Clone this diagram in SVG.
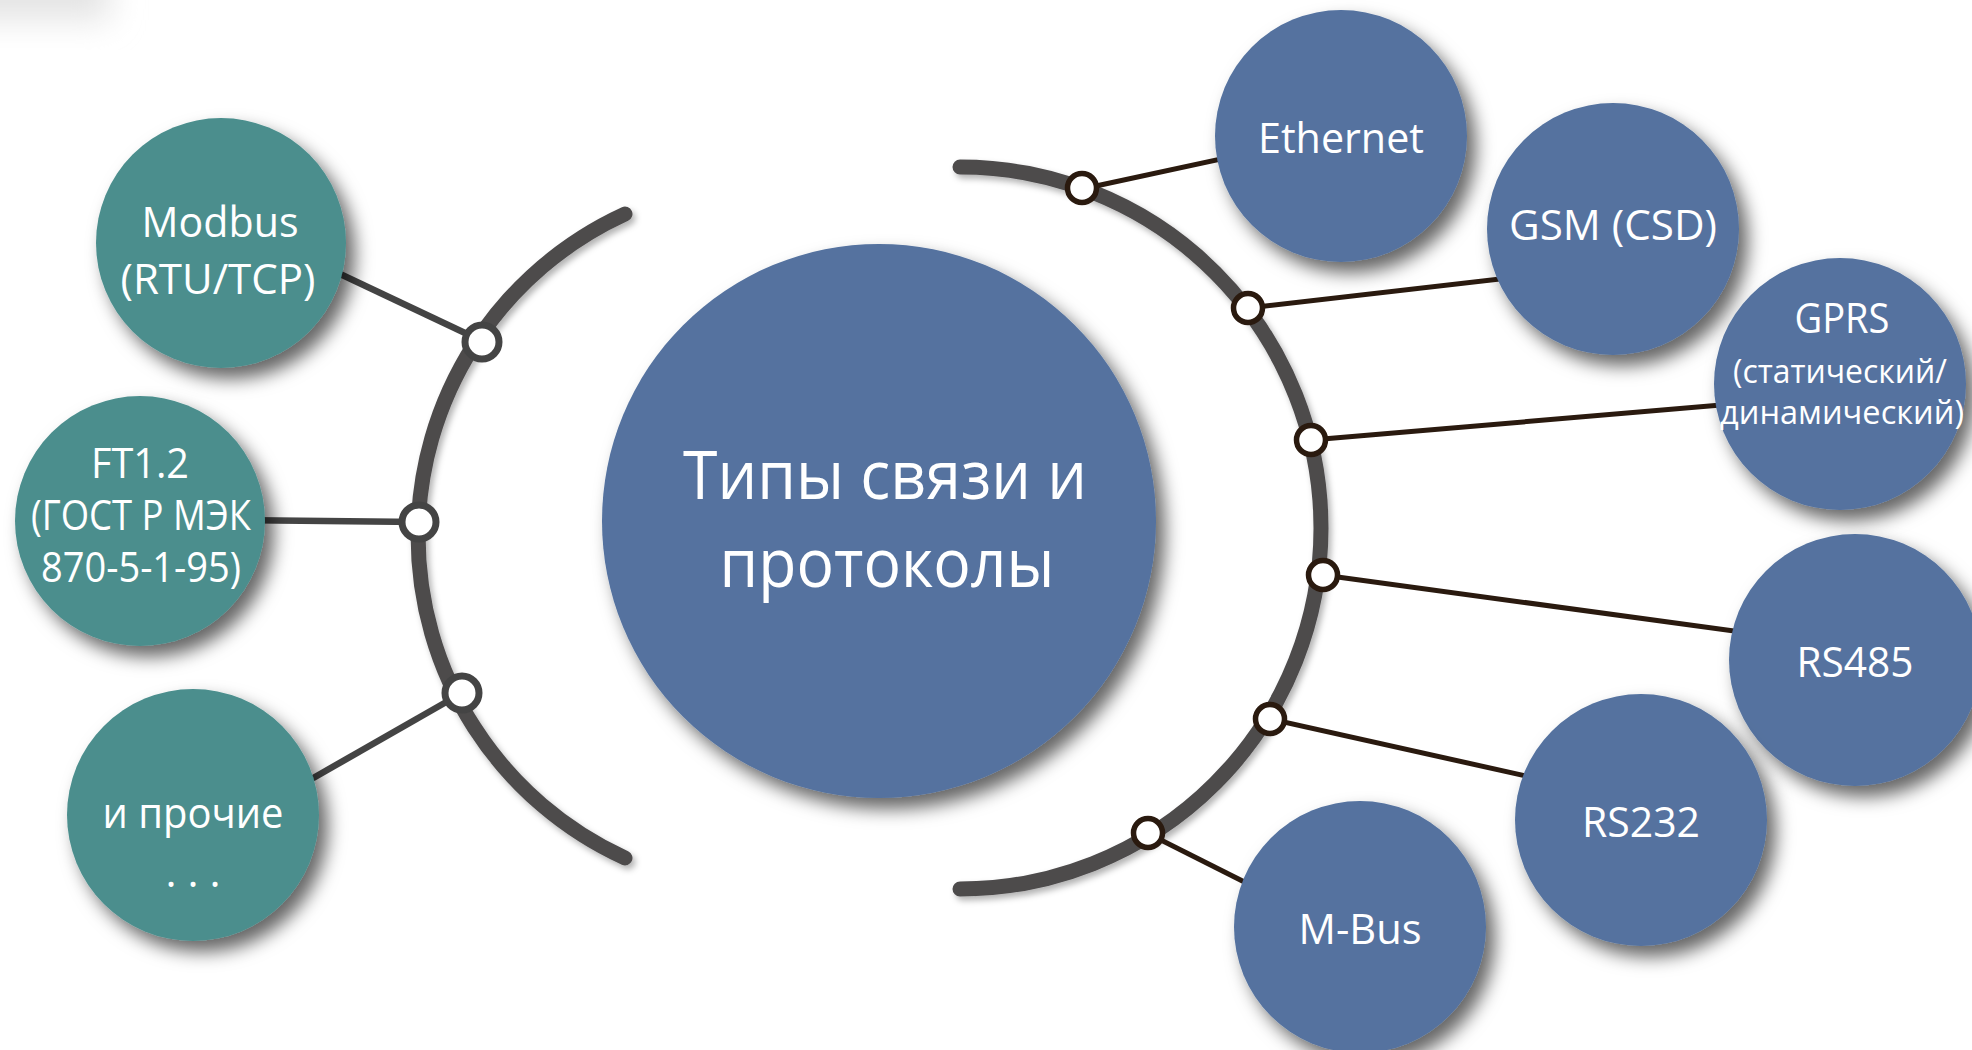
<svg xmlns="http://www.w3.org/2000/svg" width="1972" height="1050" viewBox="0 0 1972 1050">
<defs>
<filter id="sh" x="-30%" y="-30%" width="170%" height="170%">
<feDropShadow dx="9" dy="11" stdDeviation="9" flood-color="#000" flood-opacity="0.6"/>
</filter>
<filter id="shl" x="-30%" y="-30%" width="170%" height="170%">
<feDropShadow dx="3" dy="4" stdDeviation="3" flood-color="#000" flood-opacity="0.3"/>
</filter>
<filter id="blur" x="-50%" y="-50%" width="200%" height="200%">
<feGaussianBlur stdDeviation="16"/>
</filter>
<style>
.teal{fill:#4b8e8d;filter:url(#sh)}
.blue{fill:#54729f;filter:url(#sh)}
.arc{fill:none;stroke:#4d4b4c;stroke-width:15;stroke-linecap:round;filter:url(#shl)}
.cl{stroke:#444;stroke-width:6.5;fill:none}
.cr{stroke:#2a1a0f;stroke-width:5;fill:none}
.dl{fill:#fff;stroke:#444;stroke-width:7}
.dr{fill:#fff;stroke:#2a1a0f;stroke-width:5.5}
text{font-family:"Open Sans","Noto Sans","Liberation Sans",sans-serif;fill:#fff;text-anchor:middle}
.t{font-size:42px}
.s{font-size:32px}
.c{font-size:68px}
</style>
</defs>
<rect width="1972" height="1050" fill="#fff"/>
<rect x="-60" y="-40" width="170" height="60" fill="#e4e4e4" filter="url(#blur)"/>
<g id="arcs">
<path class="arc" d="M625,214 A354,354 0 0 0 625,858"/>
<path class="arc" d="M960,167 A361,361 0 1 1 960,889"/>
</g>
<g id="connectors">
<line class="cl" x1="482" y1="341" x2="300" y2="255"/>
<line class="cl" x1="419" y1="522" x2="230" y2="520"/>
<line class="cl" x1="462" y1="693" x2="280" y2="797"/>
<line class="cr" x1="1082" y1="189" x2="1300" y2="142"/>
<line class="cr" x1="1248" y1="308" x2="1560" y2="272"/>
<line class="cr" x1="1311" y1="440" x2="1780" y2="400"/>
<line class="cr" x1="1323" y1="575" x2="1800" y2="640"/>
<line class="cr" x1="1270" y1="719" x2="1580" y2="788"/>
<line class="cr" x1="1147" y1="833" x2="1300" y2="910"/>
<circle class="dl" cx="482" cy="342" r="17"/>
<circle class="dl" cx="419" cy="522" r="17"/>
<circle class="dl" cx="462" cy="693" r="17"/>
<circle class="dr" cx="1082" cy="188" r="14.5"/>
<circle class="dr" cx="1248" cy="308" r="14.5"/>
<circle class="dr" cx="1311" cy="440" r="14.5"/>
<circle class="dr" cx="1323" cy="575" r="14.5"/>
<circle class="dr" cx="1270" cy="719" r="14.5"/>
<circle class="dr" cx="1148" cy="833" r="14.5"/>
</g>
<g id="center">
<circle class="blue" cx="879" cy="521" r="277"/>
<text class="c" x="885" y="499" textLength="404" lengthAdjust="spacingAndGlyphs">Типы связи и</text>
<text class="c" x="887" y="587" textLength="335" lengthAdjust="spacingAndGlyphs">протоколы</text>
</g>
<g id="modbus">
<circle class="teal" cx="221" cy="243" r="125"/>
<text class="t" x="220" y="237" textLength="157" lengthAdjust="spacingAndGlyphs">Modbus</text>
<text class="t" x="218" y="294" textLength="195" lengthAdjust="spacingAndGlyphs">(RTU/TCP)</text>
</g>
<g id="ft12">
<circle class="teal" cx="140" cy="521" r="125"/>
<text class="t" x="140" y="478" textLength="98" lengthAdjust="spacingAndGlyphs">FT1.2</text>
<text class="t" x="141" y="530" textLength="220" lengthAdjust="spacingAndGlyphs">(ГОСТ Р МЭК</text>
<text class="t" x="141" y="582" textLength="200" lengthAdjust="spacingAndGlyphs">870-5-1-95)</text>
</g>
<g id="other">
<circle class="teal" cx="193" cy="815" r="126"/>
<text class="t" x="193" y="828" textLength="181" lengthAdjust="spacingAndGlyphs">и прочие</text>
<text class="t" x="193" y="887">. . .</text>
</g>
<g id="ethernet">
<circle class="blue" cx="1341" cy="136" r="126"/>
<text class="t" x="1341" y="153" textLength="166" lengthAdjust="spacingAndGlyphs">Ethernet</text>
</g>
<g id="gsm">
<circle class="blue" cx="1613" cy="229" r="126"/>
<text class="t" x="1613" y="240" textLength="208" lengthAdjust="spacingAndGlyphs">GSM (CSD)</text>
</g>
<g id="gprs">
<circle class="blue" cx="1840" cy="384" r="126"/>
<text class="t" x="1842" y="333" textLength="95" lengthAdjust="spacingAndGlyphs">GPRS</text>
<text class="s" x="1840" y="383" textLength="214" lengthAdjust="spacingAndGlyphs">(статический/</text>
<text class="s" x="1842" y="424" textLength="244" lengthAdjust="spacingAndGlyphs">динамический)</text>
</g>
<g id="rs485">
<circle class="blue" cx="1855" cy="660" r="126"/>
<text class="t" x="1855" y="677" textLength="117" lengthAdjust="spacingAndGlyphs">RS485</text>
</g>
<g id="rs232">
<circle class="blue" cx="1641" cy="820" r="126"/>
<text class="t" x="1641" y="837" textLength="118" lengthAdjust="spacingAndGlyphs">RS232</text>
</g>
<g id="mbus">
<circle class="blue" cx="1360" cy="927" r="126"/>
<text class="t" x="1360" y="944" textLength="123" lengthAdjust="spacingAndGlyphs">M-Bus</text>
</g>
</svg>
